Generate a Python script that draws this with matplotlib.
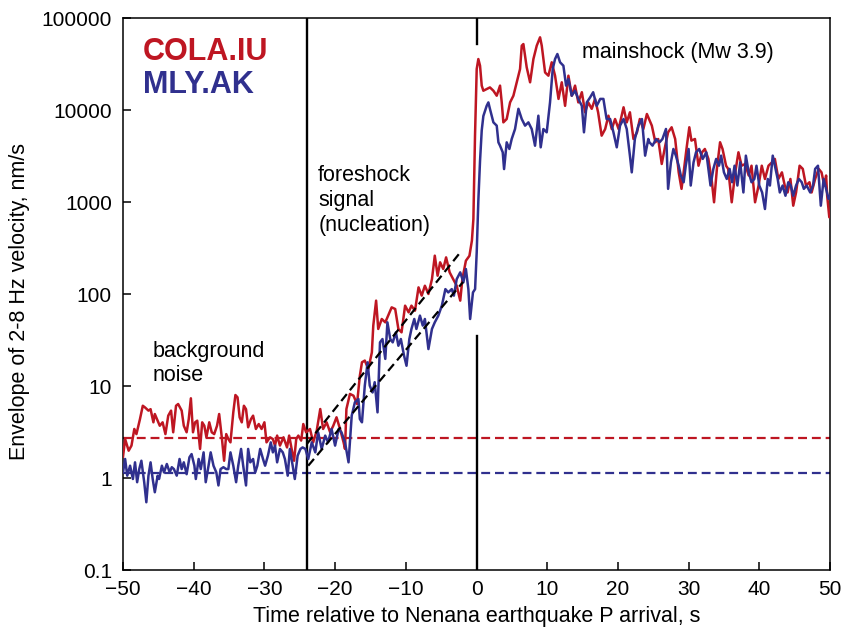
import matplotlib
matplotlib.use("Agg")
import matplotlib.pyplot as plt
from matplotlib.ticker import FixedLocator, FixedFormatter

plt.rcParams['font.family'] = ['Liberation Sans', 'DejaVu Sans']

# ---------------- data ----------------
red_time = [
    -50.0, -49.7, -49.2, -48.8, -48.4, -48.1, -47.6, -47.2, -46.9, -46.4,
    -46.1, -45.7, -45.5, -45.1, -44.8, -44.4, -44.0, -43.6, -43.2, -42.9,
    -42.5, -42.2, -41.7, -41.4, -41.0, -40.7, -40.4, -40.1, -39.8, -39.5,
    -39.1, -38.8, -38.5, -38.2, -37.8, -37.45, -37.1, -36.7, -36.4, -36.0,
    -35.7, -35.4, -35.1, -34.8, -34.4, -34.1, -33.8, -33.5, -33.2, -32.9,
    -32.6, -32.3, -31.9, -31.6, -31.2, -30.8, -30.4, -30.0, -29.7, -29.2,
    -28.8, -28.5, -28.2, -27.8, -27.3, -26.8, -26.5, -26.1, -25.8, -25.5,
    -25.2, -24.8, -24.5, -24.1,
    -23.55, -23.1, -22.6, -22.1, -21.7, -21.2, -20.7, -20.25, -19.8, -19.3,
    -18.8, -18.6, -18.4, -17.9, -17.4, -16.9, -16.5, -16.2, -15.8, -15.3,
    -14.8, -14.6, -14.2, -13.9, -13.4, -12.9, -12.5, -12.0, -11.5, -11.05,
    -10.6, -10.1, -9.6, -9.2, -8.7, -8.2, -7.75, -7.3, -6.8, -6.3,
    -5.9, -5.5, -5.15, -4.7, -4.3, -3.8, -3.3, -2.8, -2.3, -2.0,
    -1.5, -1.0, -0.65, -0.44, -0.21, 0.03, 0.26,
    0.5, 0.74, 0.97, 1.44, 1.9, 2.39, 2.86, 3.33, 3.57, 3.8,
    4.27, 4.75, 5.22, 5.69, 6.16, 6.4, 6.63, 7.1, 7.58, 8.05,
    8.52, 8.99, 9.23, 9.7, 10.17, 10.64, 11.11, 11.6, 12.06, 12.53,
    13.0, 13.47, 13.94, 14.4, 14.9, 15.36, 15.8, 16.3, 16.77, 17.2,
    17.7, 18.2, 18.66, 19.13, 19.6, 20.1, 20.8, 21.25, 21.7, 22.2,
    22.7, 23.1, 23.6, 24.1,
    24.8, 25.3, 25.7, 26.2, 26.7, 27.1, 27.6, 28.1, 28.6, 29.0,
    29.3, 29.7, 30.1, 30.4, 30.9, 31.4, 31.9, 32.3, 32.8, 33.3,
    33.6, 34.0, 34.45, 34.8, 35.3, 35.6, 36.1, 36.6, 37.05, 37.5,
    38.0, 38.5, 38.9, 39.4, 39.9, 40.35, 40.8, 41.3, 41.8, 42.2,
    42.7, 43.2, 43.6, 44.0, 44.4, 44.8, 45.2, 45.7, 46.15, 46.6,
    47.1, 47.4, 47.9, 48.4, 48.8, 49.2, 49.45, 49.6, 49.9, 50.0,
]
red_env = [
    1.7, 2.65, 1.98, 2.25, 3.41, 3.0, 4.37, 6.1, 5.86, 5.4,
    5.6, 4.03, 4.96, 4.2, 3.7, 4.03, 3.0, 4.76, 5.4, 3.14,
    6.1, 6.37, 5.4, 3.7, 3.14, 4.37, 7.35, 3.14, 4.03, 4.2,
    2.07, 4.03, 3.7, 2.77, 4.03, 3.14, 3.0, 3.7, 4.96, 2.65,
    1.54, 3.0, 2.65, 2.44, 5.17, 7.98, 7.53, 4.56, 4.03, 6.1,
    5.6, 3.56, 4.37, 4.76, 3.41, 3.86, 3.41, 4.03, 2.44, 2.77,
    2.65, 2.25, 2.89, 2.25, 2.77, 2.15, 2.89, 1.98, 1.54, 2.65,
    2.89, 2.55, 3.86, 3.14,
    3.41, 2.44, 3.27, 5.62, 3.41, 4.03, 3.14, 3.71, 4.57, 3.41,
    2.44, 2.07, 5.62, 8.2, 7.85, 6.37, 12.9, 18.1, 18.9, 15.3,
    23.2, 45.3, 84.7, 41.7, 53.5, 49.2, 58.2, 71.6, 68.7, 41.7,
    38.3, 74.7, 63.2, 74.7, 65.9, 118, 96, 123, 100, 145,
    261, 158, 221, 187, 250, 172, 145, 123, 84.7, 145,
    230, 260, 380, 653, 5260, 27900, 35800,
    30300, 18400, 16200, 16900, 17600, 16200, 14300, 18400, 12100, 7340,
    7980, 12100, 14300, 20000, 27900, 50000, 52100, 29100, 20000, 35800,
    50000, 61700, 50000, 25600, 23600, 33000, 23600, 13200, 20000, 11100,
    23600, 14300, 18400, 12100, 15600, 9440, 12100, 10300, 13200, 9440,
    5260, 6210, 8670, 6210, 7980, 6210, 10700, 7340, 9440, 4840,
    5720, 7980, 6210, 9050,
    6760, 4460, 4840, 2590, 4100, 5720, 6490, 4840, 2100, 1390,
    2100, 3770, 6490, 4650, 4840, 2480, 3470, 3770, 2940, 1640,
    993, 2290, 4460, 3770, 2480, 2290, 993, 2100, 3470, 2480,
    2590, 1940, 2480, 993, 1510, 2480, 1780, 2480, 2700, 2940,
    1780, 2100, 1510, 1270, 1780, 912, 1270, 2480, 2290, 1510,
    1640, 1270, 1780, 2290, 2100, 1510, 1940, 1170, 682, 700,
]

blue_time = [
    -50.0, -49.7, -49.4, -49.0, -48.6, -48.3, -48.0, -47.7, -47.4, -47.0,
    -46.7, -46.4, -46.1, -45.8, -45.5, -45.1, -44.9, -44.5, -44.2, -43.8,
    -43.4, -43.1, -42.8, -42.4, -42.0, -41.7, -41.4, -41.0, -40.6, -40.3,
    -39.9, -39.7, -39.3, -39.0, -38.6, -38.3, -37.9, -37.6, -37.2, -36.8,
    -36.5, -36.2, -35.8, -35.4, -35.1, -34.8, -34.4, -34.0, -33.7, -33.3,
    -33.0, -32.6, -32.3, -32.0, -31.6, -31.3, -31.0, -30.6, -30.2, -29.9,
    -29.5, -29.1, -28.8, -28.5, -28.2, -27.8, -27.4, -27.1, -26.7, -26.4,
    -26.0, -25.7, -25.3, -24.9, -24.6, -24.2,
    -23.8, -23.3, -22.8, -22.4, -21.9, -21.4, -21.0, -20.5, -20.0, -19.5,
    -19.1, -18.6, -18.1, -17.65, -17.2, -16.7, -16.5, -16.2, -15.8, -15.4,
    -15.1, -14.7, -14.4, -14.0, -13.65, -13.3, -12.9, -12.6, -12.2, -11.85,
    -11.4, -11.05, -10.7, -10.25, -9.9, -9.5, -9.2, -8.8, -8.5, -8.0,
    -7.6, -7.3, -6.8, -6.3, -5.9, -5.4, -4.9, -4.4, -4.0, -3.5,
    -3.2, -2.8, -2.3, -1.85, -1.5, -1.15, -0.9, -0.5, -0.2, 0.03,
    0.26, 0.5, 0.74, 0.97,
    1.44, 1.68, 1.9, 2.39, 2.86, 3.1, 3.33, 3.71, 3.9, 4.27,
    4.65, 4.98, 5.45, 5.93, 6.4, 6.87, 7.34, 7.81, 8.28, 8.75,
    9.08, 9.46, 9.93, 10.4, 10.78, 11.11, 11.44, 11.82, 12.29, 12.67,
    13.0, 13.47, 13.94, 14.4, 14.9, 15.2, 15.6, 16.07, 16.5, 17.0,
    17.5, 17.95, 18.4, 18.9, 19.37, 19.84, 20.3, 20.8, 21.25, 21.7,
    21.96, 22.4, 22.9, 23.4, 23.85, 24.3,
    24.45, 24.9, 25.4, 25.9, 26.3, 26.8, 27.1, 27.5, 27.85, 28.2,
    28.6, 28.9, 29.3, 29.6, 30.0, 30.3, 30.7, 31.05, 31.5, 32.0,
    32.5, 32.8, 33.1, 33.5, 33.9, 34.3, 34.6, 35.0, 35.4, 35.8,
    36.15, 36.5, 36.9, 37.3, 37.75, 38.1, 38.5, 38.9, 39.3, 39.6,
    40.0, 40.4, 40.8, 41.2, 41.5, 41.9, 42.2, 42.6, 42.9, 43.3,
    43.7, 44.1, 44.45, 44.8, 45.2, 45.6, 46.0, 46.3, 46.7, 47.2,
    47.6, 47.9, 48.3, 48.7, 49.1, 49.45, 49.8, 50.0,
]
blue_env = [
    1.15, 1.61, 1.06, 1.36, 0.975, 1.48, 0.90, 1.25, 1.54, 0.90,
    0.545, 1.06, 1.48, 0.975, 0.70, 1.06, 0.975, 1.36, 1.15, 1.42,
    1.15, 1.31, 1.25, 1.06, 1.61, 1.25, 1.48, 1.10, 1.68, 1.82,
    1.36, 0.975, 1.61, 1.25, 1.90, 0.90, 1.36, 1.90, 1.36, 1.15,
    0.83, 1.25, 1.31, 1.25, 1.25, 1.90, 1.36, 0.90, 1.36, 2.07,
    1.36, 0.83, 2.07, 1.48, 1.61, 1.15, 1.36, 2.07, 1.61, 1.36,
    1.75, 2.44, 1.90, 2.25, 1.48, 2.07, 1.90, 1.61, 1.06, 2.07,
    1.36, 0.975, 1.75, 2.07, 2.15, 2.07,
    1.61, 2.44, 1.90, 3.14, 2.07, 2.89, 2.44, 3.41, 2.25, 3.41,
    3.14, 2.44, 1.48, 4.76, 6.65, 7.22, 4.38, 4.03, 10.1, 18.1,
    10.1, 8.5, 11.0, 5.17, 29.8, 32.4, 19.7, 49.2, 32.4, 29.8,
    38.3, 27.4, 32.4, 21.4, 16.6, 32.4, 41.7, 53.5, 41.7, 58.2,
    45.3, 53.5, 25.2, 41.7, 49.2, 58.2, 74.7, 113, 104, 113,
    96, 145, 172, 134, 187, 113, 53.5, 104, 113, 284,
    1030, 2800, 6000, 8600,
    11100, 12100, 10300, 7340, 6760, 4450, 4090, 3470, 2280, 4450,
    3770, 4840, 6210, 10300, 7980, 6760, 7340, 6210, 4090, 8670,
    3930, 6210, 5720, 12100, 27900, 35800, 40600, 33000, 30300, 18400,
    21700, 14300, 16200, 13200, 11100, 5720, 12100, 13700, 15600, 11100,
    13200, 13200, 7980, 7980, 5720, 3930, 6760, 7980, 6210, 3190,
    2100, 4840, 6760, 7980, 3190, 4840,
    4460, 4100, 4840, 4460, 4840, 6220, 1390, 2700, 3770, 3190,
    2480, 1940, 1640, 2480, 3770, 1510, 2700, 3470, 3770, 2940,
    3470, 2290, 1510, 2290, 2940, 2480, 3190, 2100, 1780, 2290,
    1640, 2480, 1510, 2700, 1270, 3190, 2100, 1640, 1780, 2480,
    1510, 1270, 839, 1780, 1510, 3190, 2480, 1780, 1270, 1510,
    1170, 1640, 1510, 1170, 1510, 1780, 1640, 1390, 1510, 1270,
    1510, 2290, 2480, 912, 1780, 1390, 1080, 1170,
]

red_noise_level = 2.75
blue_noise_level = 1.12
foreshock_time = -24.0
mainshock_time = 0.0
trend_upper_t = [-24.0, -2.1]
trend_upper_v = [2.34, 296]
trend_lower_t = [-23.8, -1.9]
trend_lower_v = [1.36, 135]

x_ticks = [-50, -40, -30, -20, -10, 0, 10, 20, 30, 40, 50]
y_ticks = [0.1, 1, 10, 100, 1000, 10000, 100000]
y_tick_labels = ["0.1", "1", "10", "100", "1000", "10000", "100000"]

RED = '#BE1622'
BLUE = '#30308E'

# ---------------- figure ----------------
fig = plt.figure(figsize=(8.41, 6.35), dpi=100)
ax = fig.add_axes([123/841, 1-570/635, 707/841, 552/635])
ax.set_yscale('log')
ax.set_xlim(-50, 50)
ax.set_ylim(0.1, 100000)

dash = (4.0, 2.2)
ax.plot([-50, 50], [red_noise_level]*2, color=RED, lw=1.6, dashes=dash, zorder=2)
ax.plot([-50, 50], [blue_noise_level]*2, color=BLUE, lw=1.6, dashes=dash, zorder=2)

ax.plot([foreshock_time]*2, [0.1, 100000], color='black', lw=1.7, zorder=3)
ax.plot([mainshock_time]*2, [0.1, 35], color='black', lw=1.7, zorder=3)
ax.plot([mainshock_time]*2, [52000, 100000], color='black', lw=1.7, zorder=3)

ax.plot(red_time, red_env, color=RED, lw=1.8, zorder=4)
ax.plot(blue_time, blue_env, color=BLUE, lw=1.8, zorder=5)

ax.plot(trend_upper_t, trend_upper_v, color='black', lw=1.6, dashes=dash, zorder=6)
ax.plot(trend_lower_t, trend_lower_v, color='black', lw=1.6, dashes=dash, zorder=6)

# axes styling
for s in ax.spines.values():
    s.set_linewidth(1.1)
ax.xaxis.set_major_locator(FixedLocator(x_ticks))
ax.yaxis.set_major_locator(FixedLocator(y_ticks))
ax.yaxis.set_major_formatter(FixedFormatter(y_tick_labels))
ax.yaxis.set_minor_locator(FixedLocator([]))
ax.tick_params(axis='both', which='major', direction='in', length=6, width=1.1,
               labelsize=15, top=False, right=False)
ax.tick_params(axis='x', pad=7)
ax.tick_params(axis='y', pad=8)

ax.set_xlabel('Time relative to Nenana earthquake P arrival, s', fontsize=15.5)
ax.set_ylabel('Envelope of 2-8 Hz velocity, nm/s', fontsize=15.5)
ax.xaxis.set_label_coords(0.5, -0.065)
ax.yaxis.set_label_coords(-0.132, 0.487)

ax.text(0.028, 0.966, 'COLA.IU', transform=ax.transAxes, color=RED,
        fontsize=22, fontweight='bold', va='top', ha='left')
ax.text(0.028, 0.906, 'MLY.AK', transform=ax.transAxes, color=BLUE,
        fontsize=22, fontweight='bold', va='top', ha='left')
ax.text(0.0424, 0.415, 'background\nnoise', transform=ax.transAxes,
        fontsize=15.5, va='top', ha='left', linespacing=1.2)
ax.text(0.276, 0.734, 'foreshock\nsignal\n(nucleation)', transform=ax.transAxes,
        fontsize=15.5, va='top', ha='left', linespacing=1.25)
ax.text(0.649, 0.957, 'mainshock (Mw 3.9)', transform=ax.transAxes,
        fontsize=15.5, va='top', ha='left')

fig.savefig('out.png', dpi=100)
